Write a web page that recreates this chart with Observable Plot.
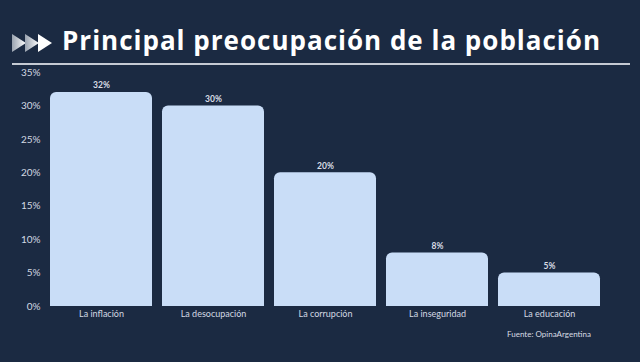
<!DOCTYPE html>
<html><head><meta charset="utf-8">
<script src="https://cdn.jsdelivr.net/npm/d3@7"></script>
<script src="https://cdn.jsdelivr.net/npm/@observablehq/plot@0.6"></script>
<style>
html,body{margin:0;padding:0;background:#1b2a42;width:640px;height:362px;overflow:hidden;font-family:"Open Sans",sans-serif;}
#head{position:relative;height:66px;}
#title{position:absolute;left:62px;top:25px;color:#fff;font-family:"Open Sans",sans-serif;font-weight:700;font-size:26px;line-height:30px;letter-spacing:1px;white-space:nowrap;}
#icon{position:absolute;left:12px;top:32px;}
#rule{position:absolute;left:12px;right:10px;top:63px;height:1.5px;background:#c5cad3;}
#chart{position:absolute;left:0;top:66px;}
#cap{position:absolute;left:507px;top:329px;color:#d6dbe3;font-size:8px;font-family:Lato,sans-serif;}
</style></head>
<body>
<div id="head">
  <svg id="icon" width="42" height="22" viewBox="0 0 42 22">
    <defs><linearGradient id="g" x1="0" x2="1"><stop offset="0" stop-color="#9aa3b0"/><stop offset="1" stop-color="#ffffff"/></linearGradient></defs>
    <polygon points="0,2 14,11 0,20" fill="url(#g)"/>
    <polygon points="13,2 27,11 13,20" fill="url(#g)"/>
    <polygon points="26,2 40,11 26,20" fill="#fff"/>
  </svg>
  <div id="title">Principal preocupación de la población</div>
  <div id="rule"></div>
</div>
<div id="chart"></div>
<div id="cap">Fuente: OpinaArgentina</div>
<script>
const categories = ["La inflación","La desocupación","La corrupción","La inseguridad","La educación"];
const values = [32, 30, 20, 8, 5];
const yTicks = [0,5,10,15,20,25,30,35];

const data = categories.map((c,i)=>({cat:c, v:values[i]}));

const chart = Plot.plot({
  width: 640,
  height: 258,
  marginTop: 6,
  marginBottom: 18,
  marginLeft: 43.5,
  marginRight: 32.5,
  style: {background:"transparent", color:"#d3d9e2", fontFamily:"Lato, sans-serif"},
  x: {domain: categories, paddingInner: 0.085, paddingOuter: 0.05, label: null},
  y: {domain: [0,35], label: null},
  marks: [
    Plot.axisY({ticks: yTicks, tickSize: 0, tickPadding: 3.5, tickFormat: d => d + "%", fontSize: 10, fill:"#d3d9e2"}),
    Plot.axisX({tickSize: 0, tickPadding: 4, fontSize: 9, fill:"#d3d9e2"}),
    Plot.barY(data, {x:"cat", y:"v", fill:"#c9ddf7", ry1: 6, rx: 6}),
    Plot.text(data, {x:"cat", y:"v", text: d => d.v + "%", dy: -7, fontSize: 8.5, fontWeight: 700, fill:"#d8dde5"})
  ]
});
document.getElementById("chart").appendChild(chart);
</script>
</body></html>
